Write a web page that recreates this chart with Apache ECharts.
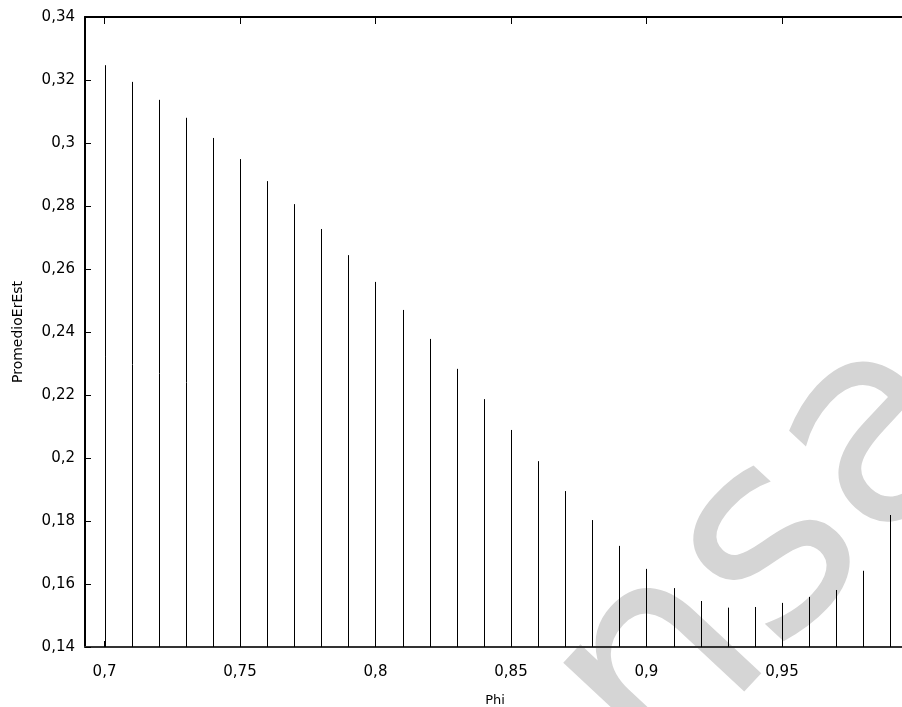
<!DOCTYPE html>
<html>
<head>
<meta charset="utf-8">
<script src="https://cdn.jsdelivr.net/npm/echarts@6/dist/echarts.min.js"></script>
<style>
    html,body{margin:0;padding:0;background:#fff;}
    #chart{width:902px;height:707px;}
</style>
</head>
<body>
<div id="chart"></div>
<script>
    // datos
    var phi = [0.70, 0.71, 0.72, 0.73, 0.74, 0.75, 0.76, 0.77, 0.78, 0.79,
               0.80, 0.81, 0.82, 0.83, 0.84, 0.85, 0.86, 0.87, 0.88, 0.89,
               0.90, 0.91, 0.92, 0.93, 0.94, 0.95, 0.96, 0.97, 0.98, 0.99];
    var promedioErEst = [0.3247, 0.3194, 0.3137, 0.3080, 0.3016, 0.2949, 0.2879, 0.2806, 0.2727, 0.2644,
                         0.2559, 0.2470, 0.2378, 0.2283, 0.2187, 0.2089, 0.1990, 0.1895, 0.1803, 0.1721,
                         0.1648, 0.1587, 0.1546, 0.1525, 0.1527, 0.1540, 0.1559, 0.1581, 0.1642, 0.1819];
    var xTicks = [0.7, 0.75, 0.8, 0.85, 0.9, 0.95];
    var yMin = 0.14, yMax = 0.34, yStep = 0.02;

    var font = 'DejaVu Sans';
    function coma(v){ // 0.25 -> "0,25"
        return String(+(+v).toFixed(3)).replace('.', ',');
    }

    var seriesData = [];
    for (var i = 0; i < phi.length; i++) {
        seriesData.push([phi[i], promedioErEst[i]]);
    }

    var option = {
        animation: false,
        backgroundColor: '#fff',
        grid: {left: 85, top: 17, right: -3, bottom: 60, outerBoundsMode: 'none'},
        graphic: [{
            type: 'text',
            z: 0,
            x: 772, y: 556,
            rotation: 0.82,
            style: {
                text: 'nsa',
                font: '278px "DejaVu Sans"',
                fill: '#d5d5d5',
                align: 'center',
                verticalAlign: 'middle'
            }
        }],
        xAxis: [{
            type: 'value',
            min: 0.6928,
            max: 0.9954,
            name: 'Phi',
            nameLocation: 'middle',
            nameGap: 47,
            nameTextStyle: {fontFamily: font, fontSize: 13, color: '#000'},
            axisLine: {onZero: false, lineStyle: {color: '#333', width: 2}},
            axisTick: {inside: true, length: 6, customValues: xTicks, lineStyle: {color: '#000'}},
            axisLabel: {customValues: xTicks, margin: 18, fontFamily: font, fontSize: 15, color: '#000', formatter: coma},
            splitLine: {show: false}
        }, {
            type: 'value',
            position: 'top',
            min: 0.6928,
            max: 0.9954,
            axisLine: {onZero: false, lineStyle: {color: '#000', width: 2}},
            axisTick: {inside: true, length: 7, customValues: xTicks, lineStyle: {color: '#000'}},
            axisLabel: {show: false},
            splitLine: {show: false}
        }],
        yAxis: {
            type: 'value',
            min: yMin,
            max: yMax,
            interval: yStep,
            name: 'PromedioErEst',
            nameLocation: 'middle',
            nameGap: 60,
            nameTextStyle: {fontFamily: font, fontSize: 14, color: '#000'},
            axisLine: {show: true, onZero: false, lineStyle: {color: '#000', width: 2}},
            axisTick: {inside: true, length: 6, lineStyle: {color: '#000'}},
            axisLabel: {margin: 10, fontFamily: font, fontSize: 15, color: '#000', formatter: coma},
            splitLine: {show: false}
        },
        series: [{
            type: 'custom',
            z: 5,
            data: seriesData,
            renderItem: function (params, api) {
                var top = api.coord([api.value(0), api.value(1)]);
                var base = api.coord([api.value(0), yMin]);
                var x = Math.round(top[0]) + 0.5;
                return {
                    type: 'line',
                    shape: {x1: x, y1: base[1], x2: x, y2: top[1]},
                    style: {stroke: '#000', lineWidth: 1}
                };
            }
        }]
    };

    echarts.init(document.getElementById('chart')).setOption(option);
</script>
</body>
</html>
